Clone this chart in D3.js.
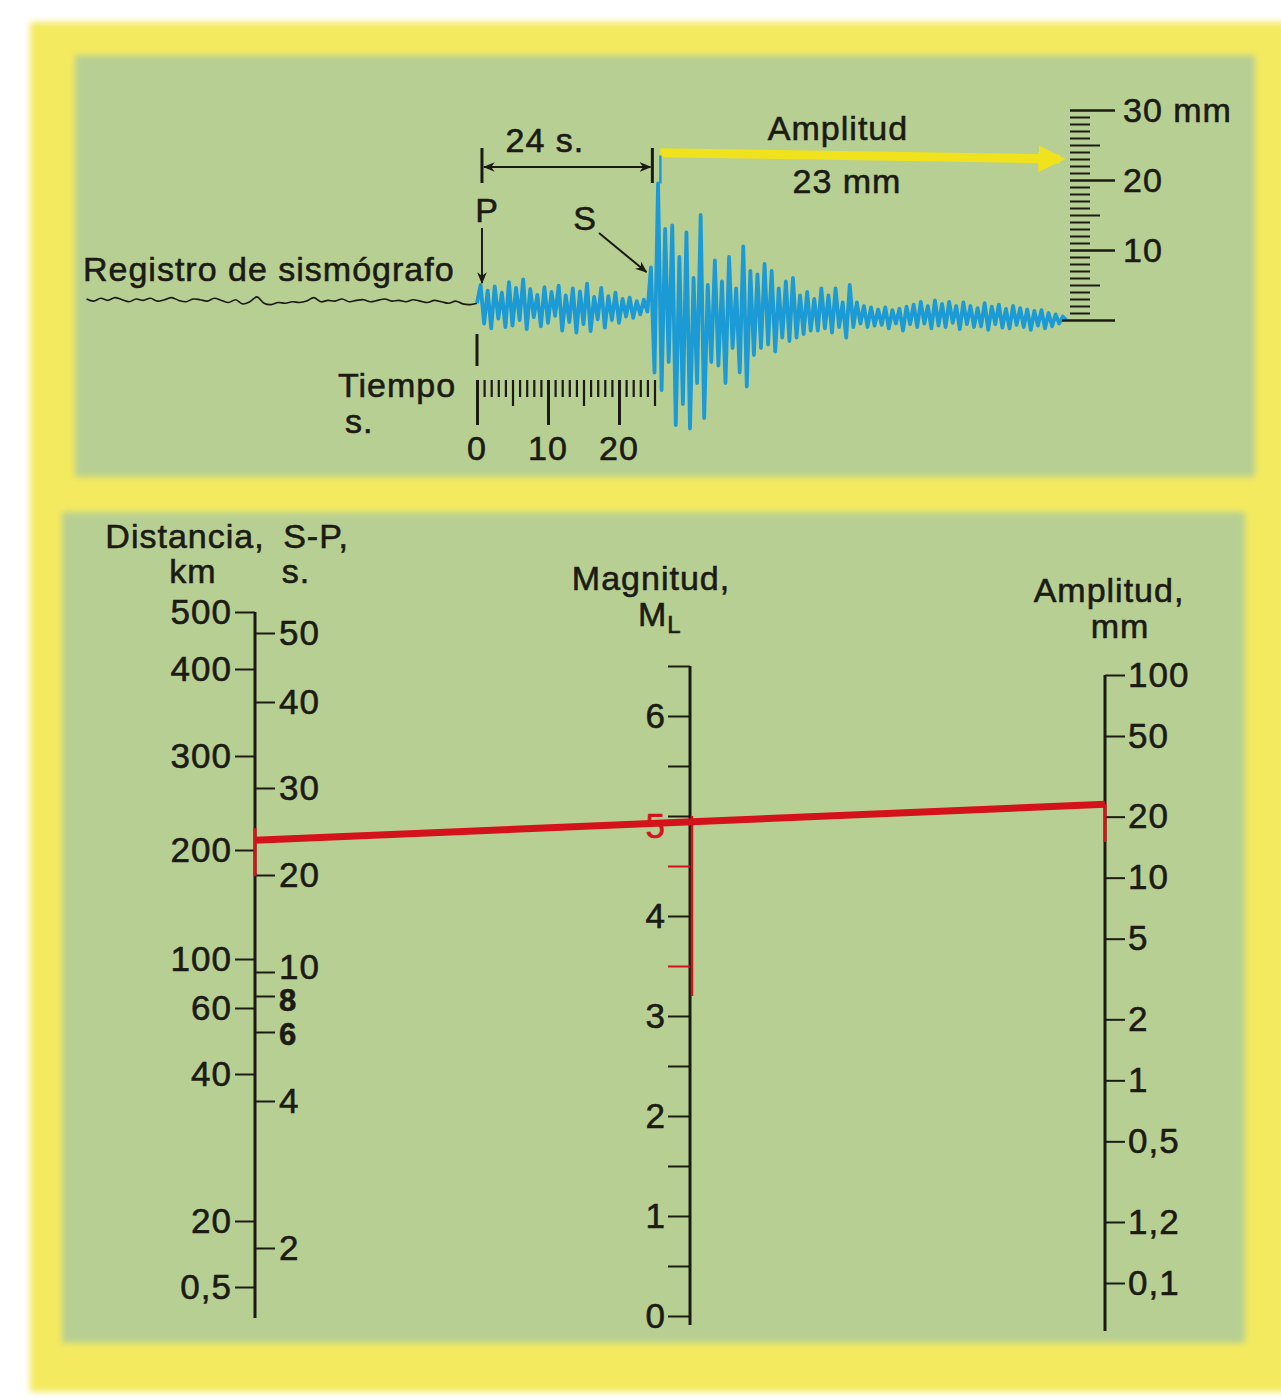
<!DOCTYPE html>
<html>
<head>
<meta charset="utf-8">
<script src="https://cdn.jsdelivr.net/npm/d3@7"></script>
<style>
  body { margin: 0; background: #fff; }
  svg text { font-family: "Liberation Sans", Arial, sans-serif; letter-spacing: 1px;
    stroke-width: 0.6px; paint-order: stroke; }
</style>
</head>
<body>
<div id="chart"></div>
<script>
// ---- data ----
// seismogram, mm on the record, before P (one sample per second, from -55 s)
const preTraceStart = -55;
const preTraceStep = 1;
const preTraceMm = [3.0, 2.7, 3.1, 2.8, 3.2, 2.9, 2.6, 3.0, 2.8, 3.1, 2.7, 2.9, 3.2, 2.8, 2.6, 3.0, 2.9, 2.7, 3.1, 2.8,
  2.5, 2.9, 2.3, 2.6, 3.3, 2.4, 2.2, 2.5, 2.4, 2.6, 2.5, 2.7, 3.2, 2.6, 2.8, 2.7, 3.0, 2.6, 2.8, 2.9,
  2.6, 2.8, 3.0, 2.7, 2.8, 2.6, 2.9, 2.7, 2.5, 2.8, 2.6, 2.4, 2.7, 2.3, 2.2, 2.4];
// seismogram after P (one sample every half second, from 0 s)
const traceStep = 0.5;
const traceMm = [
  2.4, 5.0, -0.5, 4.2, -1.2, 4.8, 0.2, 3.9, -1.0, 5.4,
  -0.8, 4.6, 0.0, 5.8, -1.3, 4.4, 0.4, 3.6, -0.9, 4.7,
  -0.4, 4.0, 0.6, 4.9, -1.5, 3.5, -0.3, 4.5, -1.8, 4.1,
  -0.6, 5.2, -1.6, 3.3, 0.1, 4.6, -1.1, 3.4, 0.0, 3.9,
  -0.4, 3.0, 0.5, 3.2, 0.3, 2.7, 0.8, 2.9, 1.2,
  7.5, -7.5, 19.5, -10, 13, -6, 13.5, -15, 9, -12,
  12.5, -15.5, 6, -9, 15, -14, 5, -6, 8.5, -6.5,
  5.5, -9, 9, -4, 4.5, -7.5, 10.5, -9.5, 7, -5,
  6.5, -4, 8, -3.5, 7, -4.5, 4.5, -2.5, 5.5, -3,
  6, -2.5, 3.5, -2, 4, -1.5, 3, -1.5, 4.5, -1.2,
  3.5, -1.8, 4.5, -1, 2.5, -2.5, 5, -1, 2.5, -0.5,
  2, -1, 1.8, -0.8, 1.5, -0.7, 1.8, -1.2, 1.4, -0.5,
  1.6, -1.5, 1.9, -0.6, 2.2, -1.0, 2.6, -0.5, 2.0, -1.2,
  2.8, -0.8, 2.3, -1.0, 2.6, -0.4, 2.0, -1.3, 2.5, -0.6,
  2.0, -1.0, 1.7, -0.9, 2.4, -1.4, 1.9, -0.6, 2.2, -1.1,
  1.6, -1.2, 2.0, -0.7, 1.7, -1.0, 1.5, -1.4, 1.3, -0.8,
  1.4, -1.2, 1.0, -0.9, 0.8, -0.5, 0.5, 0.0];
const pArrival = 0.7;        // s
const spInterval = 24;       // s
const amplitudeRead = 23;    // mm
const timeTicks = d3.range(0, 26);
const timeLabels = [0, 10, 20];
const rulerTicks = d3.range(0, 31);
const rulerLabels = [10, 20, 30];
const rulerLabelText = ["10", "20", "30 mm"];

// nomogram scales (positions in magnitude units of the correction term)
const distanceLabels = ["500", "400", "300", "200", "100", "60", "40", "20", "0,5"];
const distanceCorr = [4.695, 4.41, 3.975, 3.505, 2.96, 2.715, 2.385, 1.65, 1.32];
const spLabels = ["50", "40", "30", "20", "10", "8", "6", "4", "2"];
const spValues = [50, 40, 30, 20, 10, 8, 6, 4, 2];
const spCorr = [4.59, 4.245, 3.815, 3.38, 2.895, 2.775, 2.595, 2.25, 1.515];
const magnitudeTicks = d3.range(0, 6.51, 0.5);
const amplitudeValues = [100, 50, 20, 10, 5, 2, 1, 0.5, 0.2, 0.1];
const amplitudeLabels = ["100", "50", "20", "10", "5", "2", "1", "0,5", "1,2", "0,1"];
const resultMagnitude = 5;

// ---- drawing ----
const ink = "#1b1b14", red = "#d3121b", blue = "#1b9ad6";
const green = "#b7cf93", yellow = "#f4ea5e";

const svg = d3.select("#chart").append("svg").attr("width", 1281).attr("height", 1400);
const defs = svg.append("defs");
defs.append("filter").attr("id", "soft").append("feGaussianBlur").attr("stdDeviation", 3);
defs.append("marker").attr("id", "arrowK").attr("viewBox", "0 0 10 10")
  .attr("refX", 9).attr("refY", 5).attr("markerWidth", 6).attr("markerHeight", 6)
  .attr("orient", "auto-start-reverse")
  .append("path").attr("d", "M0,1 L10,5 L0,9 L3,5 Z").attr("fill", ink);
defs.append("marker").attr("id", "arrowY").attr("viewBox", "0 0 10 10")
  .attr("refX", 8).attr("refY", 5).attr("markerWidth", 3).attr("markerHeight", 3)
  .attr("orient", "auto")
  .append("path").attr("d", "M0,0 L10,5 L0,10 Z").attr("fill", "#f0e21c");

// frame and panels
svg.append("rect").attr("x", 30).attr("y", 22).attr("width", 1260).attr("height", 1370)
  .attr("fill", yellow).attr("filter", "url(#soft)");
svg.append("rect").attr("x", 75).attr("y", 55).attr("width", 1180).attr("height", 422)
  .attr("fill", green).attr("filter", "url(#soft)");
svg.append("rect").attr("x", 62).attr("y", 512).attr("width", 1183).attr("height", 831)
  .attr("fill", green).attr("filter", "url(#soft)");

// every text gets the ink colour through style, so fills set later on can override it
function label(sel) {
  return sel.style("fill", ink).style("stroke", ink);
}

// ===== top panel: seismogram =====
const xTime = d3.scaleLinear().domain([0, 20]).range([477, 619]);
const yRec = d3.scaleLinear().domain([0, 30]).range([320, 110]);

const preLine = d3.line()
  .x((d, i) => xTime(preTraceStart + i * preTraceStep))
  .y(d => yRec(d))
  .curve(d3.curveCatmullRom);
svg.append("path").attr("d", preLine(preTraceMm))
  .attr("fill", "none").attr("stroke", ink).attr("stroke-width", 1.6);

const traceLine = d3.line()
  .x((d, i) => xTime(i * traceStep))
  .y(d => yRec(d));
svg.append("path").attr("d", traceLine(traceMm))
  .attr("fill", "none").attr("stroke", blue).attr("stroke-width", 3.8)
  .attr("stroke-linejoin", "round");

// yellow amplitude arrow from S peak to the ruler
const xS = xTime(pArrival + spInterval);
svg.append("line").attr("x1", xS + 8).attr("y1", yRec(amplitudeRead + 0.9))
  .attr("x2", 1060).attr("y2", yRec(amplitudeRead))
  .attr("stroke", "#f0e21c").attr("stroke-width", 9).attr("marker-end", "url(#arrowY)");
svg.append("line").attr("x1", xS + 8).attr("x2", xS + 8)
  .attr("y1", yRec(amplitudeRead + 0.5)).attr("y2", yRec(19.5))
  .attr("stroke", blue).attr("stroke-width", 2.5);

// 24 s bracket
const xP = xTime(pArrival);
[xP, xS].forEach(x => {
  svg.append("line").attr("x1", x).attr("x2", x).attr("y1", 148).attr("y2", 183)
    .attr("stroke", ink).attr("stroke-width", 3);
});
svg.append("line").attr("x1", xP + 2).attr("x2", xS - 2).attr("y1", 167).attr("y2", 167)
  .attr("stroke", ink).attr("stroke-width", 2)
  .attr("marker-start", "url(#arrowK)").attr("marker-end", "url(#arrowK)");
svg.append("text").attr("x", xP + 63).attr("y", 152).attr("text-anchor", "middle")
  .attr("font-size", 34).text(spInterval + " s.").call(label);

// P and S
svg.append("text").attr("x", xP + 5).attr("y", 222).attr("text-anchor", "middle")
  .attr("font-size", 34).text("P").call(label);
svg.append("line").attr("x1", xP).attr("x2", xP).attr("y1", 228).attr("y2", 283)
  .attr("stroke", ink).attr("stroke-width", 2).attr("marker-end", "url(#arrowK)");
svg.append("text").attr("x", 585).attr("y", 230).attr("text-anchor", "middle")
  .attr("font-size", 34).text("S").call(label);
svg.append("line").attr("x1", 599).attr("y1", 233).attr("x2", xS - 6).attr("y2", 272)
  .attr("stroke", ink).attr("stroke-width", 2).attr("marker-end", "url(#arrowK)");

svg.append("text").attr("x", 83).attr("y", 281).attr("font-size", 34)
  .text("Registro de sismógrafo").call(label);

// time scale
svg.append("line").attr("x1", xTime(0)).attr("x2", xTime(0)).attr("y1", 334).attr("y2", 366)
  .attr("stroke", ink).attr("stroke-width", 3);
const gTime = svg.append("g").attr("transform", "translate(0,380)")
  .call(d3.axisBottom(xTime).tickValues(timeTicks).tickFormat(""));
gTime.select(".domain").remove();
gTime.selectAll(".tick line")
  .attr("y2", d => d % 10 === 0 ? 45 : d % 5 === 0 ? 26 : 17)
  .attr("stroke", ink).attr("stroke-width", d => d % 10 === 0 ? 3 : 2.2);
svg.selectAll(".tlab").data(timeLabels).enter().append("text")
  .attr("x", d => xTime(d)).attr("y", 460).attr("text-anchor", "middle")
  .attr("font-size", 34).text(d => d).call(label);
svg.append("text").attr("x", 338).attr("y", 397).attr("font-size", 34).text("Tiempo").call(label);
svg.append("text").attr("x", 345).attr("y", 433).attr("font-size", 34).text("s.").call(label);

// amplitude ruler
const gRuler = svg.append("g").attr("transform", "translate(1070,0)")
  .call(d3.axisRight(yRec).tickValues(rulerTicks).tickFormat(""));
gRuler.select(".domain").remove();
gRuler.selectAll(".tick line")
  .attr("x1", d => d === 0 ? -8 : 0)
  .attr("x2", d => d % 10 === 0 ? 45 : d % 5 === 0 ? 30 : 20)
  .attr("stroke", ink).attr("stroke-width", d => d % 10 === 0 ? 2.5 : 2);
svg.selectAll(".rlab").data(rulerLabels).enter().append("text")
  .attr("x", 1123).attr("y", d => yRec(d)).attr("dy", "0.36em")
  .attr("font-size", 34).text((d, i) => rulerLabelText[i]).call(label);

svg.append("text").attr("x", 838).attr("y", 140).attr("text-anchor", "middle")
  .attr("font-size", 34).text("Amplitud").call(label);
svg.append("text").attr("x", 847).attr("y", 193).attr("text-anchor", "middle")
  .attr("font-size", 34).text(amplitudeRead + " mm").call(label);

// ===== bottom panel: nomogram =====
const yCorr = d3.scaleLinear().domain([1, 5]).range([1351, 551]);
const yMag = d3.scaleLinear().domain([0, 6.5]).range([1316, 666]);
const yAmp = d3.scaleLog().domain([0.1, 100]).range([1283, 675]);
const spToCorr = d3.scaleLinear().domain(spValues).range(spCorr);
const xLeft = 255, xMid = 690, xRight = 1105;

function styleAxis(g) {
  g.select(".domain").remove();
  g.attr("font-family", null).attr("font-size", 35);
  g.selectAll(".tick line").attr("stroke", ink).attr("stroke-width", 2);
  g.selectAll(".tick text").call(label);
}

// left: distance and S-P
svg.append("line").attr("x1", xLeft).attr("x2", xLeft)
  .attr("y1", yCorr(d3.max(distanceCorr))).attr("y2", yMag(-0.02))
  .attr("stroke", ink).attr("stroke-width", 3);
svg.append("g").attr("transform", `translate(${xLeft},0)`)
  .call(d3.axisLeft(yCorr).tickValues(distanceCorr).tickSize(20).tickPadding(3)
    .tickFormat((d, i) => distanceLabels[i]))
  .call(styleAxis);
const gSP = svg.append("g").attr("transform", `translate(${xLeft},0)`)
  .call(d3.axisRight(yCorr).tickValues(spCorr).tickSize(20).tickPadding(4)
    .tickFormat((d, i) => spLabels[i]))
  .call(styleAxis);
// the crowded 10 / 8 / 6 labels sit a little apart from their ticks, as printed
gSP.selectAll(".tick text")
  .attr("font-size", (d, i) => (i === 5 || i === 6) ? 31 : null)
  .attr("font-weight", (d, i) => (i === 5 || i === 6) ? "bold" : null)
  .attr("y", (d, i) => i === 4 ? -5 : i === 5 ? 5 : i === 6 ? 3 : 0);

// middle: magnitude
svg.append("line").attr("x1", xMid).attr("x2", xMid)
  .attr("y1", yMag(6.5)).attr("y2", yMag(-0.09))
  .attr("stroke", ink).attr("stroke-width", 3);
const gMag = svg.append("g").attr("transform", `translate(${xMid},0)`)
  .call(d3.axisLeft(yMag).tickValues(magnitudeTicks).tickSize(22).tickPadding(2)
    .tickFormat(d => Number.isInteger(d) ? d : ""))
  .call(styleAxis);

// right: amplitude
svg.append("line").attr("x1", xRight).attr("x2", xRight)
  .attr("y1", yAmp(100)).attr("y2", yAmp(0.1) + 48)
  .attr("stroke", ink).attr("stroke-width", 3);
svg.append("g").attr("transform", `translate(${xRight},0)`)
  .call(d3.axisRight(yAmp).tickValues(amplitudeValues).tickSize(20).tickPadding(3)
    .tickFormat((d, i) => amplitudeLabels[i]))
  .call(styleAxis);

// reading line: S-P 24 s to 23 mm gives M = 5
const yL = yCorr(spToCorr(spInterval));
const yR = yAmp(amplitudeRead);
svg.append("line").attr("x1", xLeft).attr("x2", xLeft).attr("y1", yL - 12).attr("y2", yL + 36)
  .attr("stroke", red).attr("stroke-width", 3);
svg.append("line").attr("x1", xMid + 2).attr("x2", xMid + 2).attr("y1", yMag(resultMagnitude)).attr("y2", yMag(3.2))
  .attr("stroke", red).attr("stroke-width", 2.5);
gMag.selectAll(".tick line").filter(d => d === 4.5 || d === 3.5).attr("stroke", red);
gMag.selectAll(".tick text").filter(d => d === resultMagnitude)
  .style("fill", red).style("stroke", red).attr("dy", "0.6em");
svg.append("line").attr("x1", xRight).attr("x2", xRight).attr("y1", yR).attr("y2", yAmp(15))
  .attr("stroke", red).attr("stroke-width", 3);
svg.append("line").attr("x1", xLeft).attr("y1", yL).attr("x2", xRight).attr("y2", yR)
  .attr("stroke", red).attr("stroke-width", 7);

// headers
const hdr = [
  ["Distancia,", 185, 548], ["km", 193, 583], ["S-P,", 316, 548], ["s.", 296, 583],
  ["Magnitud,", 651, 590], ["Amplitud,", 1109, 602], ["mm", 1120, 638]
];
svg.selectAll(".hdr").data(hdr).enter().append("text")
  .attr("x", d => d[1]).attr("y", d => d[2]).attr("text-anchor", "middle")
  .attr("font-size", 34).text(d => d[0]).call(label);
const ml = svg.append("text").attr("x", 638).attr("y", 626).attr("font-size", 34).text("M").call(label);
ml.append("tspan").attr("font-size", 24).attr("dy", 7).text("L");
</script>
</body>
</html>
